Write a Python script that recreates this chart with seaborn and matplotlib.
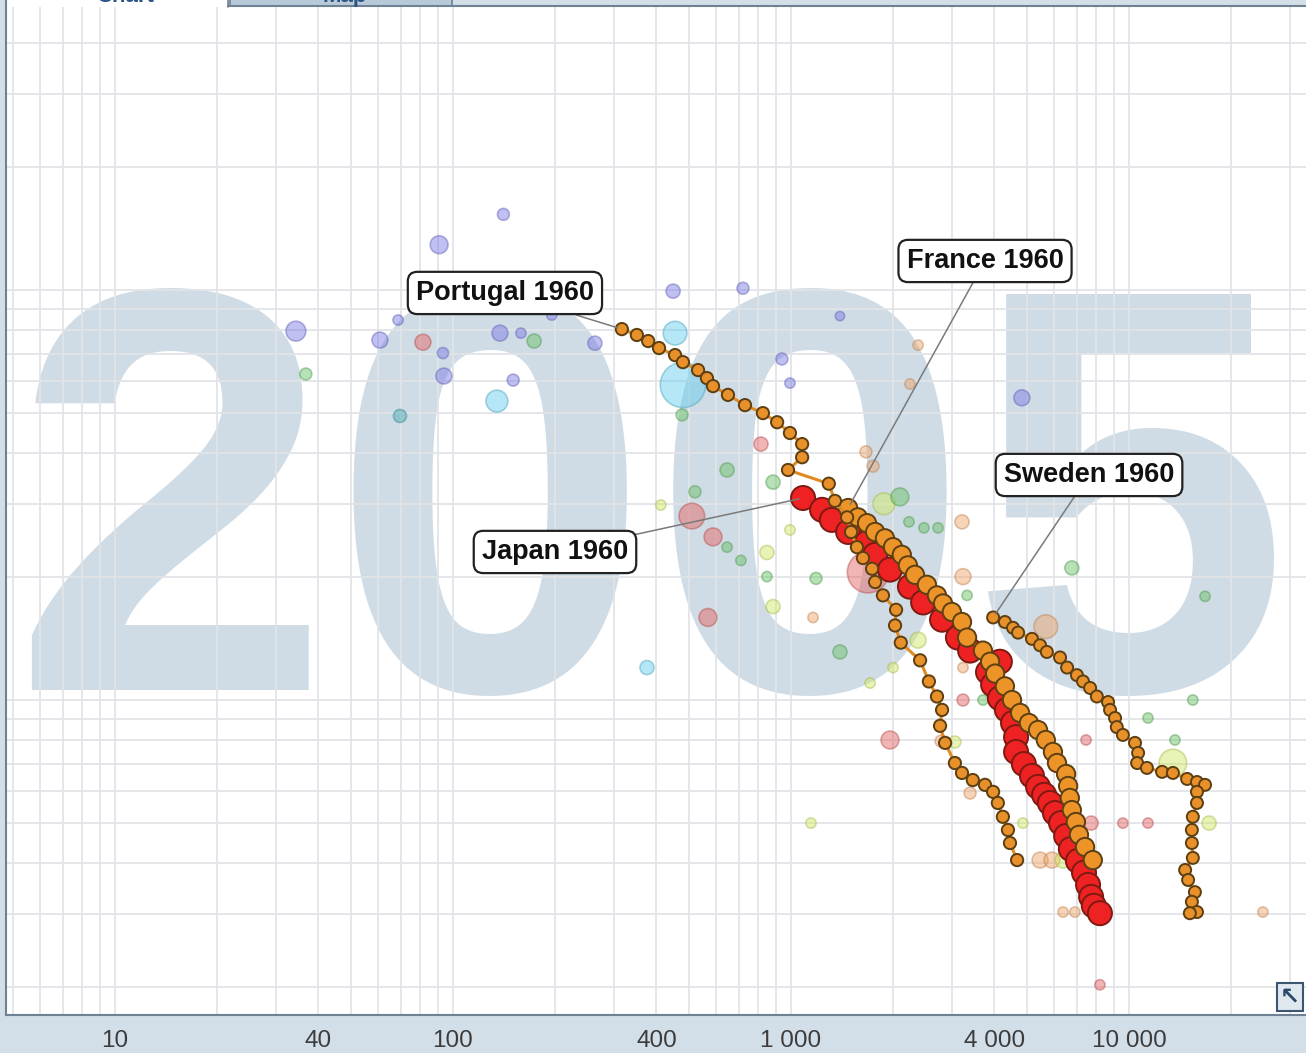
import numpy as np
import pandas as pd
import matplotlib
matplotlib.use("Agg")
import matplotlib.pyplot as plt
from matplotlib.patches import Rectangle
from matplotlib.lines import Line2D
from matplotlib.ticker import NullLocator
import seaborn as sns

# Trails 1960 -> 2005: electricity use per person (kWh) vs infant mortality (per 1000)
japan_kwh = [1086, 1236, 1321, 1476, 1679, 1774, 1963, 2249, 2460, 2799, 3119, 3388, 4150, 3828,
             3963, 4150, 4355, 4539, 4634, 4634, 4887, 5164, 5383, 5610, 5834, 6039, 6295, 6516,
             6730, 7063, 7362, 7568, 7727, 7870, 8204]
japan_imr = [31.1, 29.1, 27.5, 25.7, 24.2, 22.6, 20.8, 18.9, 17.3, 15.7, 14.2, 13.2, 12.4, 11.7,
             10.9, 10.1, 9.46, 8.79, 8.12, 7.47, 6.98, 6.53, 6.14, 5.87, 5.61, 5.30, 5.01, 4.66,
             4.33, 4.05, 3.79, 3.54, 3.31, 3.15, 3.02]

france_kwh = [1476, 1578, 1679, 1774, 1897, 2004, 2128, 2218, 2328, 2525, 2704, 2818, 2992, 3206,
              3319, 3698, 3882, 4018, 4295, 4508, 4764, 5058, 5383, 5675, 5957, 6124, 6516, 6607,
              6683, 6776, 6966, 7112, 7413, 7816]
france_imr = [29.4, 27.9, 27.0, 25.7, 24.8, 23.6, 22.6, 21.3, 20.2, 19.1, 18.0, 17.2, 16.4, 15.5,
              14.2, 13.2, 12.4, 11.6, 10.8, 10.0, 9.30, 8.79, 8.45, 7.99, 7.47, 7.02, 6.60, 6.17,
              5.77, 5.39, 5.04, 4.69, 4.38, 4.07]

portugal_kwh = [316, 350, 378, 407, 454, 479, 531, 564, 588, 651, 731, 826, 910, 993, 1079, 1079,
                980, 1294, 1349, 1466, 1506, 1567, 1633, 1738, 1774, 1871, 2046, 2032, 2113, 2410,
                2559, 2704, 2799, 2761, 2858, 3055, 3206, 3451, 3750, 3963, 4093, 4236, 4385,
                4446, 4667]
portugal_imr = [80.3, 77.7, 75.1, 72.2, 69.4, 66.7, 63.8, 61.0, 58.3, 55.5, 52.4, 50.1, 47.6, 44.8,
                42.1, 39.1, 36.4, 33.7, 30.6, 27.9, 25.7, 23.6, 22.2, 20.9, 19.4, 18.0, 16.6, 15.2,
                13.8, 12.5, 11.1, 10.2, 9.46, 8.65, 7.86, 7.02, 6.64, 6.38, 6.21, 5.97, 5.61, 5.19,
                4.82, 4.48, 4.07]

sweden_kwh = [3963, 4295, 4539, 4698, 5164, 5457, 5715, 6252, 6561, 7015, 7311, 7674, 8035, 8670,
              8790, 9095, 9204, 9594, 10420, 10640, 10570, 11300, 12530, 13490, 14860, 15890,
              16790, 15890, 15890, 15450, 15350, 15350, 15450, 14660, 14960, 15670, 15350, 15890,
              15140]
sweden_imr = [15.9, 15.5, 15.0, 14.6, 14.1, 13.6, 13.1, 12.7, 12.0, 11.5, 11.1, 10.7, 10.2, 9.89,
              9.46, 9.04, 8.59, 8.22, 7.86, 7.43, 7.02, 6.83, 6.68, 6.64, 6.42, 6.31, 6.21, 5.97,
              5.61, 5.19, 4.82, 4.48, 4.12, 3.85, 3.64, 3.40, 3.22, 3.04, 3.02]

trail_names = ["Japan", "France", "Portugal", "Sweden"]
trail_pop = [127, 61, 10.5, 9.0]   # millions

# other countries in 2005 (faded bubbles)
bg_kwh = [141, 91, 34.3, 60.8, 81.5, 93.4, 94.0, 36.7, 69.7, 137.7, 158.9, 173.8, 150.7, 134.9,
          263, 196, 448, 721, 454, 479, 476, 940, 993, 815, 1396, 4820, 375, 509, 588, 568, 520,
          647, 885, 412, 647, 711, 849, 849, 885, 1162, 1186, 1396, 1884, 2100, 1749, 1667, 2377,
          2249, 2234, 2474, 1690, 3206, 3228, 5675, 6776, 16790, 2004, 2377, 3228, 15450, 11380,
          7464, 13490, 1963, 2780, 3055, 3388, 7727, 9594, 11380, 17260, 1146, 5457, 5916, 6383,
          6918, 7413, 6383, 6918, 24900, 8204, 993, 1714, 3319, 3228, 3698, 2723, 13680, 4853,
          68.8]
bg_imr = [153, 129, 79.4, 75.5, 74.6, 70.2, 61.7, 62.4, 49.3, 78.5, 78.5, 75.1, 60.3, 53.6, 74.2,
          86.9, 99.4, 101, 78.5, 58.7, 49.6, 67.9, 59.3, 42.1, 86.4, 54.6, 12.0, 28.1, 25.0, 15.9,
          32.2, 36.4, 34.0, 29.9, 23.6, 21.9, 22.9, 20.0, 16.9, 15.9, 19.8, 13.1, 30.1, 31.3, 37.2,
          40.3, 73.4, 59.0, 27.2, 26.3, 20.5, 27.2, 20.0, 15.1, 21.0, 17.9, 12.0, 14.0, 10.0, 10.0,
          9.04, 7.99, 7.02, 7.99, 7.94, 7.9, 5.93, 5.01, 5.01, 5.01, 5.01, 5.01, 4.07, 4.07, 4.07,
          4.07, 4.07, 3.04, 3.04, 3.04, 2.02, 26.0, 11.0, 18.0, 12.0, 10.0, 26.3, 7.99, 5.01, 84.5]
bg_pop = [40, 135, 175, 100, 100, 30, 100, 40, 55, 100, 20, 70, 40, 220, 70, 20, 70, 40, 265,
          1065, 40, 40, 20, 70, 10, 100, 70, 315, 135, 135, 40, 70, 70, 20, 20, 20, 70, 20, 70, 20,
          40, 70, 220, 135, 40, 40, 20, 20, 20, 20, 880, 70, 100, 265, 70, 20, 20, 100, 40, 20,
          20, 20, 370, 135, 40, 40, 40, 70, 20, 20, 70, 20, 100, 100, 100, 100, 100, 20, 20, 20,
          20, 20, 20, 20, 20, 20, 20, 20, 20, 20]
bg_region = ["africa", "africa", "africa", "africa", "east_asia", "africa", "africa", "mideast",
             "teal", "africa", "africa", "mideast", "africa", "south_asia", "africa", "africa",
             "africa", "africa", "south_asia", "south_asia", "mideast", "africa", "africa",
             "east_asia", "africa", "africa", "south_asia", "east_asia", "east_asia", "east_asia",
             "mideast", "mideast", "mideast", "america", "mideast", "mideast", "america",
             "mideast", "america", "europe", "mideast", "mideast", "america", "mideast", "europe",
             "europe", "europe", "europe", "mideast", "mideast", "east_asia", "europe", "europe",
             "europe", "mideast", "mideast", "america", "america", "east_asia", "mideast",
             "mideast", "east_asia", "america", "east_asia", "europe", "america", "europe",
             "east_asia", "east_asia", "east_asia", "america", "america", "europe", "europe",
             "america", "europe", "europe", "europe", "europe", "europe", "east_asia", "america",
             "america", "mideast", "europe", "mideast", "mideast", "mideast", "america", "africa"]

x_labels = {10: "10", 40: "40", 100: "100", 400: "400", 1000: "1 000", 4000: "4 000",
            10000: "10 000"}

region_palette = {"africa": "#7474e4", "south_asia": "#5ccbec", "teal": "#3fa9b0",
                  "east_asia": "#e25c5c", "america": "#cde85c", "mideast": "#5fbf5f",
                  "europe": "#eea062"}
trail_fill = {"Japan": "#ee2222", "France": "#ec9428", "Portugal": "#e8902a", "Sweden": "#e8902a"}
trail_edge = {"Japan": "#7d1a12", "France": "#5c3f12", "Portugal": "#5c3f12", "Sweden": "#5c3f12"}
label_pos = {"Japan": (0.4223, 0.4589), "France": (0.7531, 0.7473),
             "Portugal": (0.3838, 0.7156), "Sweden": (0.8331, 0.5352)}

sns.set_theme(style="white")
plt.rcParams["font.family"] = ["Liberation Sans", "DejaVu Sans"]

W, H = 1306, 1053
fig = plt.figure(figsize=(W / 100, H / 100), dpi=100)
fig.patch.set_facecolor("#d3dfe8")
ax = fig.add_axes([6 / W, 1 - 1015 / H, 1300 / W, 1009 / H])
ax.set_facecolor("white")
ax.set_xscale("log")
ax.set_yscale("log")
xmin, xmax, ymin, ymax = 4.76, 33400, 1.705, 493
ax.set_xlim(xmin, xmax)
ax.set_ylim(ymin, ymax)

xt = [m * 10 ** e for e in range(0, 5) for m in range(1, 10)]
xt = [v for v in xt if xmin < v < xmax]
yt = [m * 10 ** e for e in range(0, 3) for m in range(1, 10)]
yt = [v for v in yt if ymin < v < ymax]
ax.set_xticks(xt)
ax.set_xticklabels([x_labels.get(v, "") for v in xt])
ax.set_yticks(yt)
ax.set_yticklabels([])
ax.xaxis.set_minor_locator(NullLocator())
ax.yaxis.set_minor_locator(NullLocator())
ax.tick_params(axis="x", direction="out", length=6, width=1, color="#8596a6", pad=4.5,
               labelcolor="#3c3c3c", labelsize=17.5)
ax.tick_params(axis="y", direction="out", length=5, width=1, color="#8596a6", labelleft=False)
ax.set_axisbelow(True)
ax.grid(True, color="#e2e4e7", lw=1.3)
for s in ["top", "right"]:
    ax.spines[s].set_visible(False)
for s in ["left", "bottom"]:
    ax.spines[s].set_color("#6f8294")
    ax.spines[s].set_linewidth(1.5)

# year watermark
ax.text(0.496, 0.322, "2005", transform=ax.transAxes, ha="center", va="baseline",
        fontsize=414, fontweight="bold", color="#d0dce5", zorder=0.2)

# faded bubbles for the other countries
bg = pd.DataFrame({"kwh": bg_kwh, "imr": bg_imr, "pop": bg_pop, "region": bg_region})
sns.scatterplot(data=bg, x="kwh", y="imr", hue="region", palette=region_palette, size="pop",
                sizes=(40, 1100), size_norm=(5, 1100), alpha=0.45, linewidth=1.2,
                legend=False, ax=ax, zorder=2)
coll = ax.collections[-1]
fc = np.array(coll.get_facecolors())
ec = fc.copy()
ec[:, :3] *= 0.8
coll.set_edgecolors(ec)

# trails
trails = {"Japan": (japan_kwh, japan_imr), "France": (france_kwh, france_imr),
          "Portugal": (portugal_kwh, portugal_imr), "Sweden": (sweden_kwh, sweden_imr)}
for i, name in enumerate(trail_names):
    kx, ky = trails[name]
    df = pd.DataFrame({"kwh": kx, "imr": ky, "pop": trail_pop[i]})
    sns.lineplot(data=df, x="kwh", y="imr", sort=False, estimator=None, color="#e08a22",
                 lw=2.2, ax=ax, zorder=3 + i)
    sns.scatterplot(data=df, x="kwh", y="imr", size="pop", sizes=(75, 300), size_norm=(9, 127),
                    color=trail_fill[name], edgecolor=trail_edge[name], linewidth=1.4,
                    legend=False, ax=ax, zorder=3 + i)
ax.set_xlabel("")
ax.set_ylabel("")

for name in trail_names:
    kx, ky = trails[name]
    ax.annotate(f"{name} 1960", xy=(kx[0], ky[0]), xytext=label_pos[name],
                textcoords="axes fraction", ha="center", va="center", fontsize=19.5,
                fontweight="bold", color="#111111", zorder=10,
                bbox=dict(boxstyle="round,pad=0.3,rounding_size=0.35", fc="white",
                          ec="#222222", lw=1.6),
                arrowprops=dict(arrowstyle="-", color="#7a7a7a", lw=1.1, shrinkA=0, shrinkB=3))

# tab strip at the top
def fig_rect(x, y, w, h, **kw):
    fig.add_artist(Rectangle((x / W, 1 - (y + h) / H), w / W, h / H,
                             transform=fig.transFigure, **kw))

def fig_line(x0, y0, x1, y1, **kw):
    fig.add_artist(Line2D([x0 / W, x1 / W], [1 - y0 / H, 1 - y1 / H],
                          transform=fig.transFigure, **kw))

fig_rect(6, 0, 222, 7, fc="white", ec="none")
fig_rect(230, -2, 222, 8, fc="#b8c9d8", ec="#6f8294", lw=1.2)
fig_line(228, 6, W, 6, color="#6f8294", lw=1.5)
fig_line(6, 0, 6, 7, color="#6f8294", lw=1.5)
fig_line(228, 0, 228, 7, color="#6f8294", lw=1.2)
fig.text(125 / W, 1 - 2 / H, "Chart", ha="center", va="baseline", fontsize=16,
         fontweight="bold", color="#2a5585")
fig.text(345 / W, 1 - 2 / H, "Map", ha="center", va="baseline", fontsize=16,
         fontweight="bold", color="#2a5585")

# small corner button
fig_rect(1277, 983, 26, 28, fc="#dfe8ef", ec="#3d5670", lw=1.5)
fig.text(1290 / W, 1 - 997 / H, "\u2196", ha="center", va="center", fontsize=17,
         fontweight="bold", color="#2b4a6a", family="DejaVu Sans")

fig.savefig("out.png", dpi=100, facecolor=fig.get_facecolor())
